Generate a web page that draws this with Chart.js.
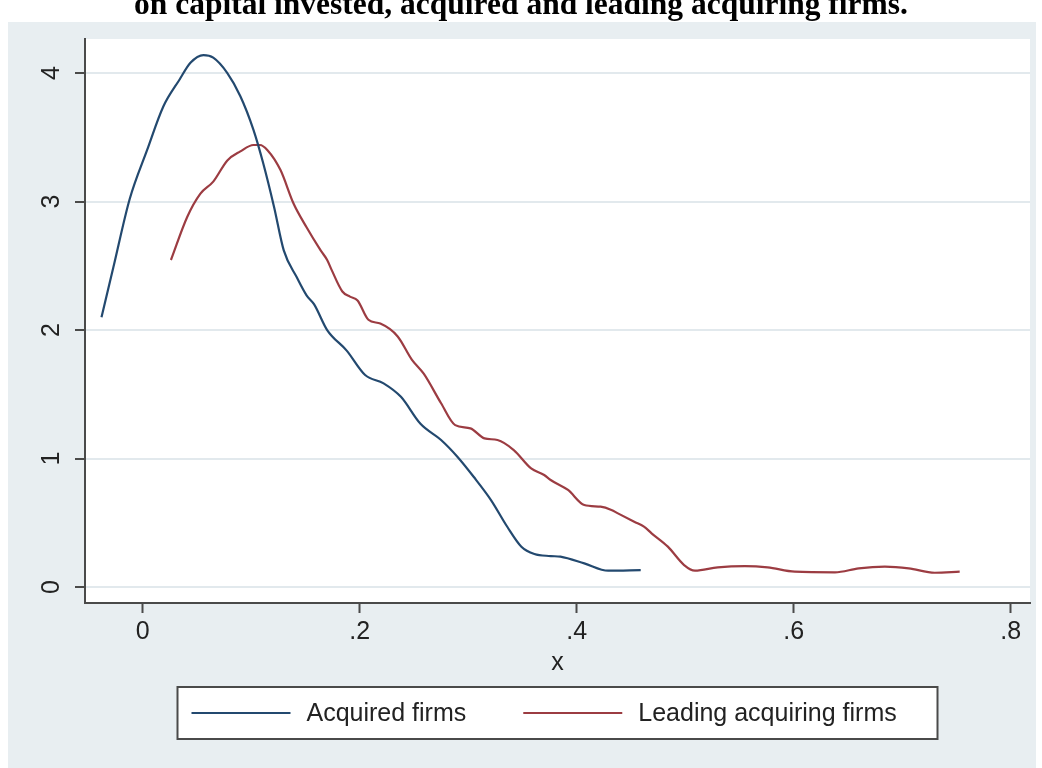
<!DOCTYPE html>
<html>
<head>
<meta charset="utf-8">
<script src="https://cdn.jsdelivr.net/npm/chart.js@4.4.1/dist/chart.umd.min.js"></script>
<style>
  body { margin: 0; background: #ffffff; overflow: hidden; }
  #wrap { position: relative; width: 1042px; height: 768px; }
  #title {
    position: absolute; left: 0; top: -12px; width: 1042px;
    text-align: center; font: bold 31.5px "Liberation Serif", "Times New Roman", serif;
    line-height: 31.5px; color: #000; z-index: 2; white-space: nowrap;
  }
  canvas { position: absolute; left: 0; top: 0; }
</style>
</head>
<body>
<div id="wrap">
  <div id="title">on capital invested, acquired and leading acquiring firms.</div>
  <canvas id="densityChart" width="1042" height="768"></canvas>
</div>
<script>
// Kernel density estimates
const acquiredX = [-0.038, -0.027, -0.012, 0.004, 0.019, 0.034, 0.044, 0.056, 0.065, 0.078,
                   0.090, 0.102, 0.111, 0.121, 0.130, 0.142, 0.151, 0.158, 0.170, 0.188,
                   0.205, 0.222, 0.238, 0.256, 0.275, 0.290, 0.305, 0.321, 0.336, 0.349,
                   0.361, 0.376, 0.385, 0.407, 0.429, 0.459];
const acquiredY = [2.10, 2.49, 3.02, 3.40, 3.74, 3.95, 4.08, 4.14, 4.12, 4.00,
                   3.82, 3.56, 3.30, 2.96, 2.62, 2.41, 2.27, 2.20, 2.00, 1.84,
                   1.65, 1.585, 1.48, 1.27, 1.144, 1.014, 0.858, 0.677, 0.469, 0.314,
                   0.257, 0.241, 0.236, 0.184, 0.127, 0.132];

const leadingX = [0.026, 0.041, 0.053, 0.065, 0.078, 0.090, 0.102, 0.108, 0.115, 0.127,
                  0.139, 0.151, 0.164, 0.170, 0.174, 0.184, 0.191, 0.198, 0.208, 0.219,
                  0.235, 0.248, 0.259, 0.275, 0.288, 0.302, 0.315, 0.327, 0.342, 0.358,
                  0.370, 0.376, 0.392, 0.407, 0.422, 0.432, 0.438, 0.453, 0.462, 0.469,
                  0.484, 0.499, 0.509, 0.530, 0.555, 0.576, 0.601, 0.638, 0.660, 0.684,
                  0.706, 0.730, 0.753];
const leadingY = [2.545, 2.88, 3.06, 3.155, 3.32, 3.39, 3.44, 3.44, 3.40, 3.245,
                  2.985, 2.80, 2.62, 2.545, 2.47, 2.30, 2.26, 2.23, 2.08, 2.05,
                  1.95, 1.77, 1.66, 1.43, 1.26, 1.235, 1.157, 1.144, 1.066, 0.923,
                  0.872, 0.833, 0.755, 0.638, 0.625, 0.600, 0.573, 0.508, 0.470, 0.418,
                  0.314, 0.171, 0.127, 0.153, 0.163, 0.153, 0.119, 0.114, 0.145, 0.158,
                  0.145, 0.111, 0.119];

const seriesNames = ['Acquired firms', 'Leading acquiring firms'];
const seriesColors = ['#23496f', '#9c3c42'];

const xTickValues = [0, 0.2, 0.4, 0.6, 0.8];
const xTickLabels = ['0', '.2', '.4', '.6', '.8'];
const yTickValues = [0, 1, 2, 3, 4];
const yTickLabels = ['0', '1', '2', '3', '4'];

const toPoints = (xs, ys) => xs.map((x, i) => ({x: x, y: ys[i]}));

const AXIS = '#4a4a4a';
const GRID = '#e2e9ed';
const REGION = '#e8eef1';
const FONT = '"Liberation Sans", Arial, sans-serif';

// Gray graph region + white plot region (Stata s2color look)
const backgroundPlugin = {
    id: 'background',
    beforeDraw(chart) {
        const {ctx, chartArea} = chart;
        ctx.save();
        ctx.fillStyle = REGION;
        ctx.fillRect(8, 22, 1028, 746);
        ctx.fillStyle = '#ffffff';
        ctx.fillRect(chartArea.left, chartArea.top, chartArea.right - chartArea.left, chartArea.bottom - chartArea.top);
        ctx.restore();
    }
};

// Rotated y tick labels
const yLabelPlugin = {
    id: 'yLabels',
    afterDraw(chart) {
        const {ctx} = chart;
        const yScale = chart.scales.y;
        ctx.save();
        ctx.fillStyle = '#222';
        ctx.font = '25px ' + FONT;
        ctx.textAlign = 'center';
        ctx.textBaseline = 'middle';
        yTickValues.forEach((v, i) => {
            ctx.save();
            ctx.translate(yScale.left + 52, yScale.getPixelForValue(v));
            ctx.rotate(-Math.PI / 2);
            ctx.fillText(yTickLabels[i], 0, 0);
            ctx.restore();
        });
        ctx.restore();
    }
};

// Boxed legend under the axis
const boxLegendPlugin = {
    id: 'boxLegend',
    afterDraw(chart) {
        const {ctx, chartArea} = chart;
        const cx = (chartArea.left + chartArea.right) / 2;
        const left = cx - 380, right = cx + 380, top = 687, bottom = 739;
        const midY = (top + bottom) / 2;
        ctx.save();
        ctx.fillStyle = '#ffffff';
        ctx.fillRect(left, top, right - left, bottom - top);
        ctx.strokeStyle = AXIS;
        ctx.lineWidth = 2;
        ctx.strokeRect(left, top, right - left, bottom - top);
        ctx.font = '25px ' + FONT;
        ctx.textBaseline = 'middle';
        ctx.textAlign = 'left';
        let x = left + 14;
        chart.data.datasets.forEach((ds, i) => {
            ctx.strokeStyle = ds.borderColor;
            ctx.lineWidth = 2;
            ctx.beginPath();
            ctx.moveTo(x, midY);
            ctx.lineTo(x + 99, midY);
            ctx.stroke();
            x += 115;
            ctx.fillStyle = '#222';
            ctx.fillText(ds.label, x, midY + 1);
            x += ctx.measureText(ds.label).width + 57;
        });
        ctx.restore();
    }
};

const ctx = document.getElementById('densityChart').getContext('2d');
const densityChart = new Chart(ctx, {
    type: 'line',
    data: {
        datasets: [
            {
                label: seriesNames[0],
                data: toPoints(acquiredX, acquiredY),
                borderColor: seriesColors[0],
                borderWidth: 2.2,
                pointRadius: 0,
                cubicInterpolationMode: 'monotone',
                fill: false
            },
            {
                label: seriesNames[1],
                data: toPoints(leadingX, leadingY),
                borderColor: seriesColors[1],
                borderWidth: 2.2,
                pointRadius: 0,
                cubicInterpolationMode: 'monotone',
                fill: false
            }
        ]
    },
    options: {
        responsive: false,
        animation: false,
        devicePixelRatio: 1,
        layout: { padding: { left: 0, right: 12, top: 39, bottom: 89 } },
        plugins: {
            legend: { display: false },
            tooltip: { enabled: false },
            title: { display: false }
        },
        scales: {
            x: {
                type: 'linear',
                min: -0.0532,
                max: 0.8178,
                afterBuildTicks: (scale) => { scale.ticks = xTickValues.map(v => ({value: v})); },
                afterFit: (scale) => { scale.height = 76; },
                ticks: {
                    color: '#222',
                    font: { family: FONT, size: 25 },
                    padding: 4,
                    maxRotation: 0,
                    callback: (value) => {
                        const i = xTickValues.findIndex(v => Math.abs(v - value) < 1e-9);
                        return i >= 0 ? xTickLabels[i] : '';
                    }
                },
                grid: {
                    drawOnChartArea: false,
                    drawTicks: true,
                    tickLength: 10,
                    tickColor: AXIS,
                    tickWidth: 2
                },
                border: { display: true, color: AXIS, width: 2 },
                title: {
                    display: true,
                    text: 'x',
                    color: '#222',
                    font: { family: FONT, size: 25 },
                    padding: { top: 0, bottom: 1 }
                }
            },
            y: {
                type: 'linear',
                min: -0.1245,
                max: 4.265,
                afterBuildTicks: (scale) => { scale.ticks = yTickValues.map(v => ({value: v})); },
                afterFit: (scale) => { scale.width = 85; },
                ticks: { display: false },
                grid: {
                    color: GRID,
                    lineWidth: 2,
                    drawTicks: true,
                    tickLength: 10,
                    tickColor: AXIS,
                    tickWidth: 2
                },
                border: { display: true, color: AXIS, width: 2 }
            }
        }
    },
    plugins: [backgroundPlugin, yLabelPlugin, boxLegendPlugin]
});
</script>
</body>
</html>
